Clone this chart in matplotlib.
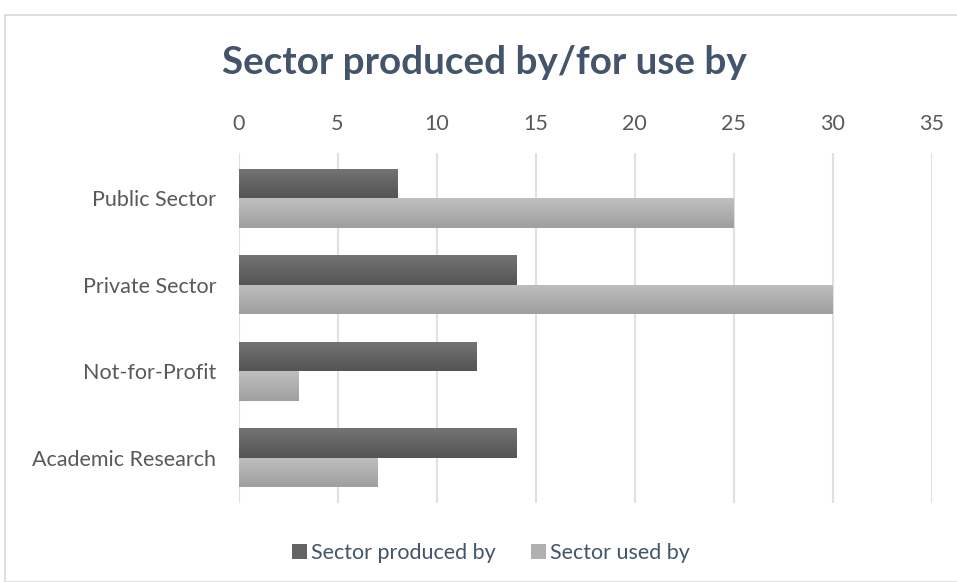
import numpy as np
import matplotlib
matplotlib.use("Agg")
import matplotlib.pyplot as plt
from matplotlib.patches import Rectangle

plt.rcParams['font.family'] = ['Lato', 'DejaVu Sans']

categories = ["Public Sector", "Private Sector", "Not-for-Profit", "Academic Research"]
produced_by = [8, 14, 12, 14]
used_by = [25, 30, 3, 7]
xticks = [0, 5, 10, 15, 20, 25, 30, 35]

W, H = 957, 582
fig = plt.figure(figsize=(W / 100, H / 100), dpi=100)
ax = fig.add_axes([238.5 / W, 1 - 503 / H, 693 / W, 350 / H])

# outer chart border
fig.patches.append(Rectangle((5 / W, 0), 1, 1 - 15 / H, transform=fig.transFigure,
                             fill=False, edgecolor='#d9d9d9', linewidth=1.2))

ypos = np.arange(len(categories))[::-1]
h = 0.34


def gradient_bars(bars, top, bottom):
    grad = np.linspace(0, 1, 64)[:, None, None]
    c0 = np.array(matplotlib.colors.to_rgb(top))
    c1 = np.array(matplotlib.colors.to_rgb(bottom))
    img = c0 * (1 - grad) + c1 * grad
    for b in bars:
        x0, y0 = b.get_x(), b.get_y()
        im = ax.imshow(img, extent=[x0, x0 + b.get_width(), y0, y0 + b.get_height()],
                       origin='upper', aspect='auto', zorder=3)
        im.set_clip_path(b)


b1 = ax.barh(ypos + h / 2, produced_by, height=h, color='#636363', zorder=2,
             label='Sector produced by')
b2 = ax.barh(ypos - h / 2, used_by, height=h, color='#b0b0b0', zorder=2,
             label='Sector used by')
gradient_bars(b1, '#747474', '#545454')
gradient_bars(b2, '#bfbfbf', '#9f9f9f')

ax.set_xlim(0, 35)
ax.set_ylim(-0.52, len(categories) - 0.48)
ax.set_xticks(xticks)
ax.set_yticks(ypos)
ax.set_yticklabels(categories)
ax.xaxis.tick_top()
ax.tick_params(axis='both', length=0, labelsize=15.5, colors='#595959')
ax.tick_params(axis='x', pad=14)
ax.tick_params(axis='y', pad=16)
ax.grid(axis='x', color='#dde1e8', linewidth=1.5, zorder=0)
ax.set_axisbelow(True)
for s in ax.spines.values():
    s.set_visible(False)

fig.text(484 / W, 1 - 62 / H, 'Sector produced by/for use by', ha='center', va='center',
         fontsize=27.8, fontweight='bold', color='#44546a')

fig.legend(handles=[b1, b2], loc='center', bbox_to_anchor=(0.513, 1 - 553 / H),
           ncol=2, frameon=False, fontsize=15.5, handlelength=0.7, handleheight=0.7,
           columnspacing=1.6, handletextpad=0.2, labelcolor='#44546a')

fig.savefig('out.png', dpi=100)
